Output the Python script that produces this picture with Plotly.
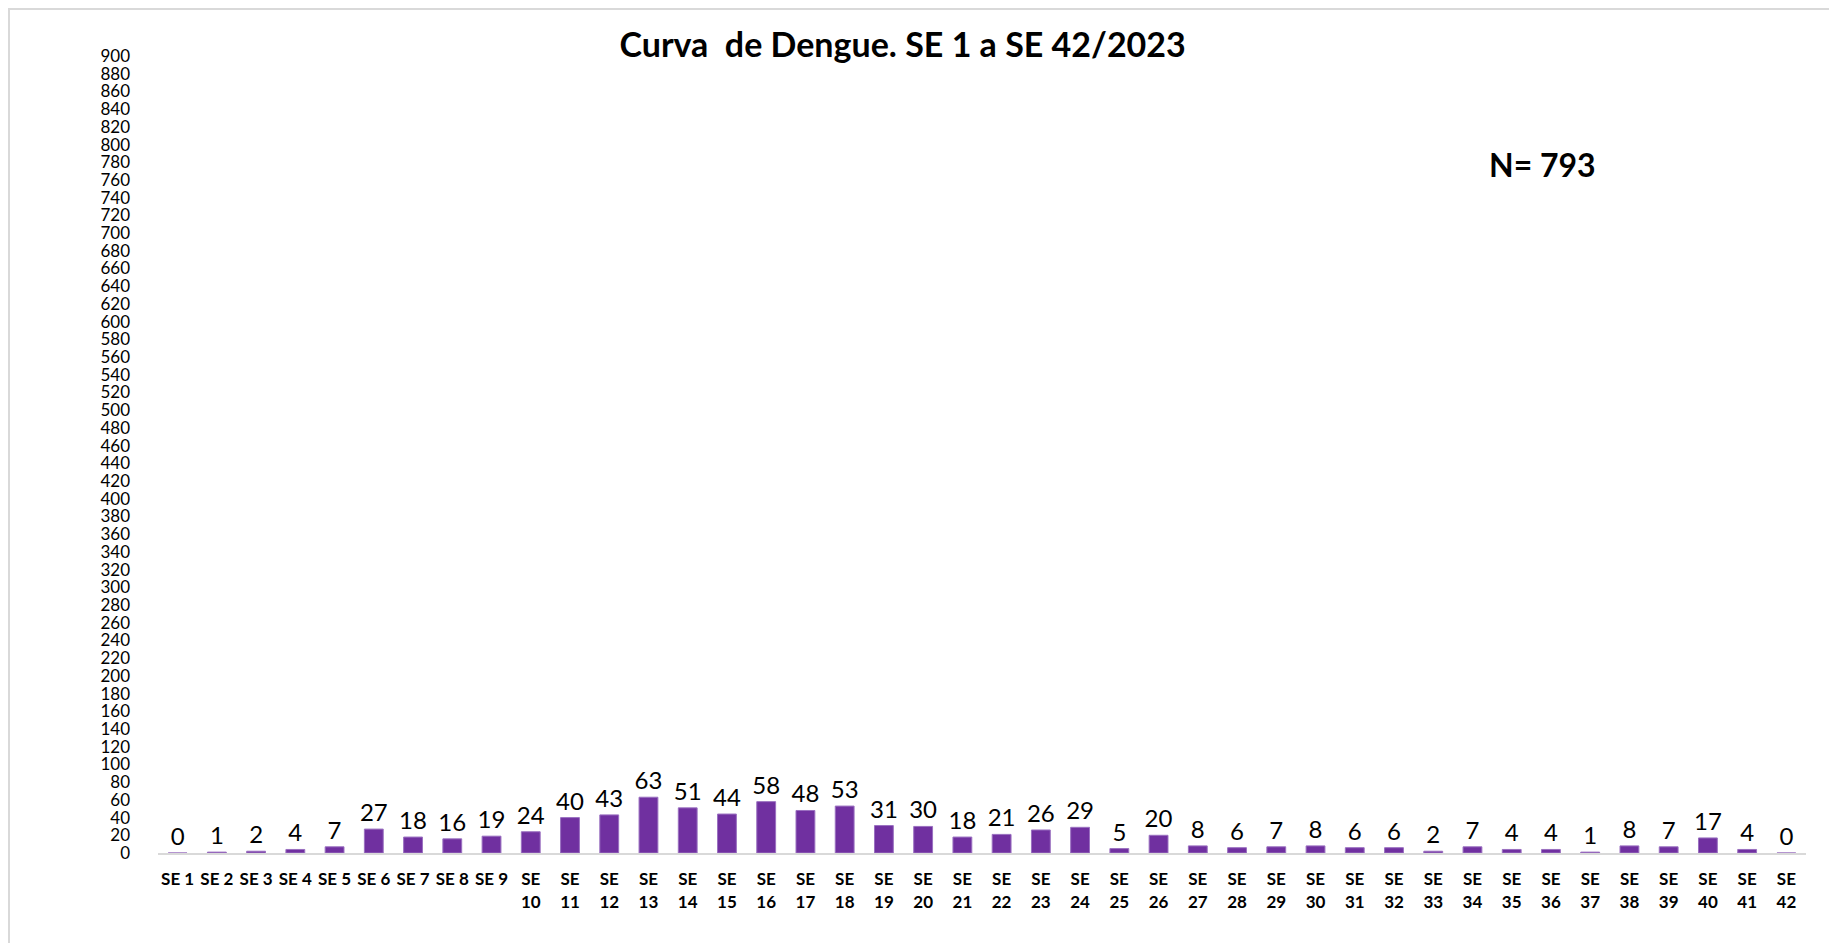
import plotly.graph_objects as go

weeks = [f"SE {i}" if i < 10 else f"SE<br>{i}" for i in range(1, 43)]
cases = [0, 1, 2, 4, 7, 27, 18, 16, 19, 24, 40, 43, 63, 51, 44, 58, 48, 53, 31, 30,
         18, 21, 26, 29, 5, 20, 8, 6, 7, 8, 6, 6, 2, 7, 4, 4, 1, 8, 7, 17, 4, 0]
title_text = "Curva  de Dengue. SE 1 a SE 42/2023"
total_text = "N= 793"
y_ticks = list(range(0, 901, 20))

FONT = "Lato, 'Open Sans', sans-serif"
W, H = 1837, 943
L, R, T, B = 150, 39, 48, 98
PW, PH = W - L - R, H - T - B

fig = go.Figure()
fig.add_trace(go.Bar(
    x=weeks, y=cases,
    marker=dict(color="#7030A0", line=dict(color="#9a70c0", width=1)),
    text=cases, textposition="outside", cliponaxis=False, constraintext="none",
    textfont=dict(family=FONT, size=24, color="#000000"),
    hoverinfo="x+y",
))

fig.update_layout(
    width=W, height=H,
    margin=dict(l=L, r=R, t=T, b=B, autoexpand=False),
    paper_bgcolor="white", plot_bgcolor="white",
    bargap=0.52,
    showlegend=False,
    title=dict(text=f"<b>{title_text}</b>", x=0.487, xanchor="center",
               y=1 - 37 / H, yanchor="middle", yref="container",
               font=dict(family=FONT, size=34, color="#000000")),
    font=dict(family=FONT, color="#000000"),
    annotations=[dict(text=f"<b>{total_text}</b>", x=(1534 - L) / PW, y=(H - B - 156) / PH,
                      xref="paper", yref="paper", showarrow=False,
                      xanchor="center", yanchor="middle",
                      font=dict(family=FONT, size=32, color="#000000"))],
    shapes=[dict(type="rect", xref="paper", yref="paper",
                 x0=(1 - L) / PW, x1=1.2, y0=-0.3, y1=(H - B - 1) / PH,
                 line=dict(color="#d9d9d9", width=2), layer="below")],
)
fig.update_yaxes(range=[0, 900], tickvals=y_ticks, showgrid=False, zeroline=False,
                 showline=False, ticks="", ticklabelstandoff=27, automargin=False,
                 tickfont=dict(family=FONT, size=17, color="#000000"))
fig.update_xaxes(showgrid=False, showline=True, linecolor="#d9d9d9", linewidth=2,
                 ticks="", tickangle=0, ticklabelstandoff=10, automargin=False,
                 tickfont=dict(family=FONT, size=17, color="#000000", weight="bold"))

fig.write_html("out.html")
